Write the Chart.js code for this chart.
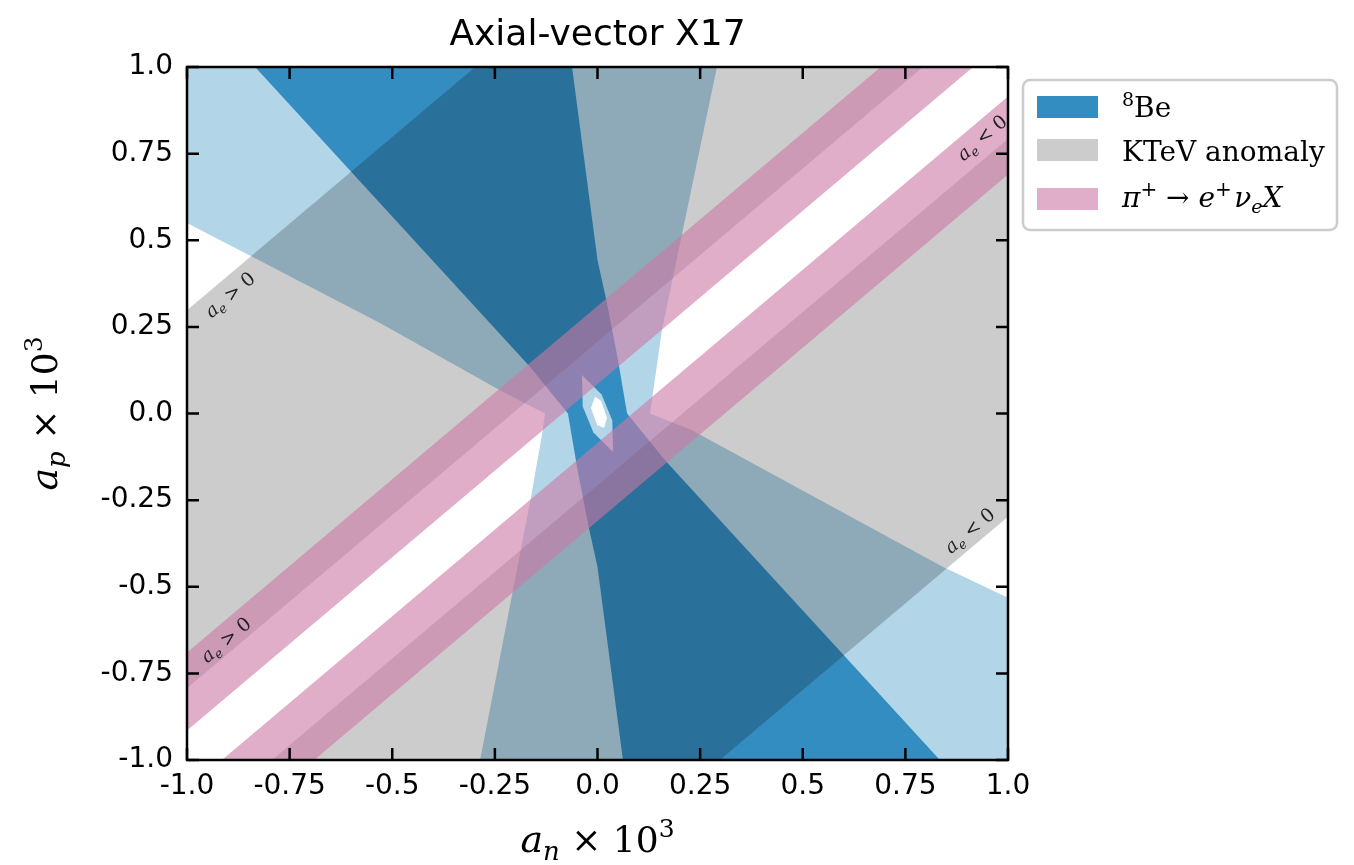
<!DOCTYPE html>
<html>
<head>
<meta charset="utf-8">
<script src="https://cdn.jsdelivr.net/npm/chart.js@4.4.1/dist/chart.umd.min.js"></script>
<style>
  html, body { margin: 0; padding: 0; background: #fff; }
  #wrap { width: 1354px; height: 865px; }
</style>
</head>
<body>
<div id="wrap"><canvas id="chart" width="1354" height="865"></canvas></div>
<script>
// axis ticks (a_n and a_p, both in units of 1e-3)
const tickValues = [-1, -0.75, -0.5, -0.25, 0, 0.25, 0.5, 0.75, 1];
const tickLabels = ['-1.0', '-0.75', '-0.5', '-0.25', '0.0', '0.25', '0.5', '0.75', '1.0'];

// 8Be allowed region, outer contour [a_n, a_p]
const be8Outer = [[-1, 1], [0.291, 1], [0.157, 0.241], [0.135, 0.059], [0.128, 0.0],
  [0.230, -0.048], [0.842, -0.443], [1, -0.532], [1, -1], [-0.286, -1],
  [-0.162, -0.241], [-0.135, -0.059], [-0.128, 0.0], [-0.230, 0.062],
  [-0.530, 0.261], [-1, 0.550]];
// 8Be allowed region, inner contour
const be8Inner = [[-0.834, 1], [-0.062, 1], [0.0, 0.443], [0.023, 0.319], [0.050, 0.154],
  [0.072, 0.0], [0.164, -0.134], [0.834, -1], [0.062, -1], [0.0, -0.443],
  [-0.023, -0.319], [-0.050, -0.154], [-0.072, 0.0], [-0.164, 0.134]];
// island at the origin where the inner contour opens up
const be8Island = [[-0.038, 0.111], [0.010, 0.055], [0.036, -0.020], [0.038, -0.111],
  [-0.010, -0.055], [-0.036, 0.020]];
const be8Gap = [[-0.006, 0.048], [0.009, 0.036], [0.023, -0.013], [0.016, -0.042],
  [-0.001, -0.033], [-0.016, 0.016]];

// KTeV anomaly bands, a_e > 0 and a_e < 0
const ktevPos = [[-1, 0.298], [-0.298, 1], [0.793, 1], [-1, -0.793]];
const ktevNeg = [[1, -0.298], [0.298, -1], [-0.793, -1], [1, 0.793]];

// pi+ -> e+ nu X bands
const pionPos = [[-1, -0.69], [0.69, 1], [0.915, 1], [-1, -0.915]];
const pionNeg = [[1, 0.69], [-0.69, -1], [-0.915, -1], [1, 0.915]];

// sign labels along the bands
const signText = ['>', '>', '<', '<'];
const signAnchor = [[-0.895, 0.342], [-0.905, -0.654], [0.937, 0.795], [0.907, -0.339]];

const colOuter = '#b2d5e7';
const colInner = '#348dc1';
const colKtev = 'rgba(0,0,0,0.2)';
const colPion = 'rgba(203,120,165,0.6)';

const sans = '"DejaVu Sans", sans-serif';
const serif = '"DejaVu Serif", serif';

function region(points, color, order) {
  return {
    data: points.map(([x, y]) => ({ x, y })),
    backgroundColor: color,
    borderColor: 'rgba(0,0,0,0)',
    borderWidth: 0,
    pointRadius: 0,
    tension: 0,
    fill: 'shape',
    order: order
  };
}

// text made of runs: [text, size, italic, dy]
function runsWidth(ctx, runs) {
  let w = 0;
  runs.forEach(r => {
    ctx.font = (r[2] ? 'italic ' : '') + r[1] + 'px ' + serif;
    w += ctx.measureText(r[0]).width;
  });
  return w;
}

function drawRuns(ctx, runs, x, y, centered) {
  let cx = centered ? x - runsWidth(ctx, runs) / 2 : x;
  ctx.textAlign = 'left';
  ctx.textBaseline = 'alphabetic';
  runs.forEach(r => {
    ctx.font = (r[2] ? 'italic ' : '') + r[1] + 'px ' + serif;
    ctx.fillText(r[0], cx, y + (r[3] || 0));
    cx += ctx.measureText(r[0]).width;
  });
}

// frame with inward ticks on all four sides
const framePlugin = {
  id: 'frame',
  afterDatasetsDraw(chart) {
    const { ctx, chartArea: a, scales: { x, y } } = chart;
    ctx.save();
    ctx.strokeStyle = '#000';
    ctx.lineWidth = 2.5;
    ctx.beginPath();
    tickValues.forEach(v => {
      const px = x.getPixelForValue(v);
      const py = y.getPixelForValue(v);
      ctx.moveTo(px, a.bottom); ctx.lineTo(px, a.bottom - 12);
      ctx.moveTo(px, a.top); ctx.lineTo(px, a.top + 12);
      ctx.moveTo(a.left, py); ctx.lineTo(a.left + 12, py);
      ctx.moveTo(a.right, py); ctx.lineTo(a.right - 12, py);
    });
    ctx.stroke();
    ctx.strokeRect(a.left, a.top, a.right - a.left, a.bottom - a.top);

    // a_e sign labels, rotated along the bands
    const ang = Math.atan2(y.getPixelForValue(1) - y.getPixelForValue(0),
      x.getPixelForValue(1) - x.getPixelForValue(0));
    ctx.fillStyle = '#222';
    signAnchor.forEach(([an, ap], i) => {
      ctx.save();
      ctx.translate(x.getPixelForValue(an), y.getPixelForValue(ap));
      ctx.rotate(ang);
      drawRuns(ctx, [['a', 19, true, 0], ['e', 13, true, 4], [' ' + signText[i] + ' 0', 19, false, 0]], 0, 6, true);
      ctx.restore();
    });
    ctx.restore();
  }
};

// title, axis titles and legend box
const labelPlugin = {
  id: 'labels',
  afterDraw(chart) {
    const { ctx, chartArea: a } = chart;
    ctx.save();
    ctx.fillStyle = '#000';
    ctx.font = '36px ' + sans;
    ctx.textAlign = 'center';
    ctx.textBaseline = 'alphabetic';
    ctx.fillText('Axial-vector X17', (a.left + a.right) / 2, 45);

    drawRuns(ctx, [['a', 38, true, 0], ['n', 26, true, 8], [' × 10', 36, false, 0], ['3', 25, false, -15]],
      (a.left + a.right) / 2, 852, true);
    ctx.save();
    ctx.translate(57, (a.top + a.bottom) / 2);
    ctx.rotate(-Math.PI / 2);
    drawRuns(ctx, [['a', 38, true, 0], ['p', 26, true, 8], [' × 10', 36, false, 0], ['3', 25, false, -15]], 0, 0, true);
    ctx.restore();

    // legend
    const bx = 1023, by = 80, bw = 314, bh = 150;
    ctx.beginPath();
    ctx.roundRect(bx, by, bw, bh, 7);
    ctx.fillStyle = 'rgba(255,255,255,0.8)';
    ctx.fill();
    ctx.strokeStyle = '#cccccc';
    ctx.lineWidth = 2.5;
    ctx.stroke();

    const rows = [
      { color: colInner, top: 96, base: 117, runs: [['8', 19, false, -11], ['Be', 28, false, 0]] },
      { color: colKtev, top: 139, base: 161, runs: [['KTeV anomaly', 28, false, 0]] },
      { color: colPion, top: 188, base: 207, runs: [['π', 28, true, 0], ['+', 20, false, -11], [' → ', 28, false, 0],
        ['e', 28, true, 0], ['+', 20, false, -11], [' ', 8, false, 0], ['ν', 28, true, 0], ['e', 19, true, 6], ['X', 28, true, 0]] }
    ];
    rows.forEach(r => {
      ctx.fillStyle = r.color;
      ctx.fillRect(1037, r.top, 61, 22);
      ctx.fillStyle = '#000';
      drawRuns(ctx, r.runs, 1122, r.base, false);
    });
    ctx.restore();
  }
};

const axisTicks = {
  font: { family: sans, size: 28 },
  color: '#000',
  maxRotation: 0,
  autoSkip: false,
  callback: (v, i) => tickLabels[i]
};

new Chart(document.getElementById('chart'), {
  type: 'line',
  data: {
    datasets: [
      region(pionPos, colPion, 1),
      region(pionNeg, colPion, 2),
      region(ktevPos, colKtev, 3),
      region(ktevNeg, colKtev, 4),
      region(be8Gap, '#ffffff', 5),
      region(be8Island, colOuter, 6),
      region(be8Inner, colInner, 7),
      region(be8Outer, colOuter, 8)
    ]
  },
  options: {
    responsive: false,
    animation: false,
    devicePixelRatio: 1,
    events: [],
    layout: { padding: { left: 0, top: 67, right: 346, bottom: 0 } },
    plugins: { legend: { display: false }, tooltip: { enabled: false } },
    scales: {
      x: {
        type: 'linear', min: -1, max: 1,
        afterBuildTicks: s => { s.ticks = tickValues.map(v => ({ value: v })); },
        afterFit: s => { s.height = 105; },
        ticks: Object.assign({ padding: 10 }, axisTicks),
        grid: { display: false, drawTicks: false },
        border: { display: false }
      },
      y: {
        type: 'linear', min: -1, max: 1,
        afterBuildTicks: s => { s.ticks = tickValues.map(v => ({ value: v })); },
        afterFit: s => { s.width = 187; },
        ticks: Object.assign({ padding: 14 }, axisTicks),
        grid: { display: false, drawTicks: false },
        border: { display: false }
      }
    }
  },
  plugins: [framePlugin, labelPlugin]
});
</script>
</body>
</html>
